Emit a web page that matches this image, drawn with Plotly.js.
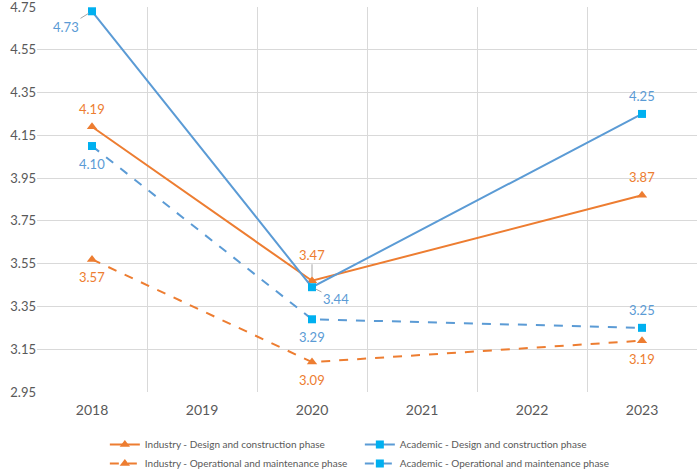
<!DOCTYPE html>
<html>
<head>
<meta charset="utf-8">
<script src="https://cdn.plot.ly/plotly-3.0.1.min.js"></script>
<style>
    html, body { margin: 0; padding: 0; background: #ffffff; }
    #chart { width: 699px; height: 470px; }
</style>
</head>
<body>
<div id="chart"></div>
<script>
// years shown on the category axis
const years = [2018, 2019, 2020, 2021, 2022, 2023];
const surveyYears = [2018, 2020, 2023];

const industryDesign = [4.19, 3.47, 3.87];
const academicDesign = [4.73, 3.44, 4.25];
const industryOperation = [3.57, 3.09, 3.19];
const academicOperation = [4.10, 3.29, 3.25];

const seriesNames = [
    "Industry - Design and construction phase",
    "Academic - Design and construction phase",
    "Industry - Operational and maintenance phase",
    "Academic - Operational and maintenance phase",
];

const yTicks = [2.95, 3.15, 3.35, 3.55, 3.75, 3.95, 4.15, 4.35, 4.55, 4.75];

const ORANGE = "#ED7D31";
const BLUE_LINE = "#5B9BD5";
const BLUE_MARK = "#00B0F0";
const FONT = "Lato, \"Open Sans\", sans-serif";

const series = [
    { name: seriesNames[0], values: industryDesign, color: ORANGE, markColor: ORANGE, symbol: "triangle-up", dash: "solid",
      labelPos: ["above", "leaderUp", "above"] },
    { name: seriesNames[1], values: academicDesign, color: BLUE_LINE, markColor: BLUE_MARK, symbol: "square", dash: "solid",
      labelPos: ["leaderLeft", "leaderRight", "above"] },
    { name: seriesNames[2], values: industryOperation, color: ORANGE, markColor: ORANGE, symbol: "triangle-up", dash: "dash",
      labelPos: ["below", "below", "below"] },
    { name: seriesNames[3], values: academicOperation, color: BLUE_LINE, markColor: BLUE_MARK, symbol: "square", dash: "dash",
      labelPos: ["below", "below", "above"] },
];

const traces = series.map((s) => ({
    type: "scatter",
    mode: "lines+markers",
    name: s.name,
    x: surveyYears,
    y: s.values,
    cliponaxis: false,
    line: { color: s.color, width: 2, dash: s.dash },
    marker: { color: s.markColor, symbol: s.symbol, size: s.symbol === "square" ? 8 : 9 },
}));

const annotations = [];
series.forEach((s) => {
    s.values.forEach((v, i) => {
        const pos = s.labelPos[i];
        const base = {
            x: surveyYears[i],
            y: v,
            xref: "x",
            yref: "y",
            text: v.toFixed(2),
            font: { family: FONT, size: 13, color: s.color === ORANGE ? ORANGE : BLUE_LINE },
        };
        const leader = { showarrow: true, arrowhead: 0, arrowwidth: 1, arrowcolor: "#A6A6A6", standoff: 4 };
        if (pos === "above") {
            annotations.push({ ...base, showarrow: false, yshift: 18 });
        } else if (pos === "below") {
            annotations.push({ ...base, showarrow: false, yshift: -18 });
        } else if (pos === "leaderLeft") {
            annotations.push({ ...base, ...leader, ax: -26, ay: 16 });
        } else if (pos === "leaderRight") {
            annotations.push({ ...base, ...leader, ax: 24, ay: 12 });
        } else if (pos === "leaderUp") {
            annotations.push({ ...base, ...leader, ax: 0, ay: -26 });
        }
    });
});

// invisible helper trace so the gridline axis exists
const xMin = years[0] - 0.5;
const xMax = years[years.length - 1] + 0.5;
traces.push({
    type: "scatter",
    x: [xMin, xMax],
    y: [yTicks[0], yTicks[0]],
    xaxis: "x2",
    mode: "none",
    showlegend: false,
    hoverinfo: "skip",
});

const layout = {
    width: 699,
    height: 470,
    margin: { t: 7, r: 2, b: 78, l: 37, autoexpand: false },
    paper_bgcolor: "#ffffff",
    plot_bgcolor: "#ffffff",
    font: { family: FONT, color: "#595959", size: 13 },
    showlegend: true,
    xaxis: {
        range: [xMin, xMax],
        tickvals: years,
        ticktext: years.map(String),
        showgrid: false,
        zeroline: false,
        showline: false,
        ticks: "",
        ticklabelstandoff: 8,
        tickfont: { size: 14, color: "#595959" },
    },
    xaxis2: {
        overlaying: "x",
        range: [xMin, xMax],
        tickvals: years.map((y) => y - 0.5).concat([xMax]),
        showticklabels: false,
        showgrid: true,
        gridcolor: "#D9D9D9",
        gridwidth: 1,
        zeroline: false,
        ticks: "",
    },
    yaxis: {
        range: [yTicks[0], yTicks[yTicks.length - 1]],
        tickvals: yTicks,
        ticktext: yTicks.map((v) => v.toFixed(2)),
        showgrid: true,
        gridcolor: "#D9D9D9",
        gridwidth: 1,
        zeroline: false,
        showline: false,
        ticks: "",
        automargin: false,
        ticklabeloverflow: "allow",
        tickfont: { size: 13, color: "#595959" },
    },
    legend: {
        orientation: "h",
        x: 0.15,
        xanchor: "left",
        xref: "container",
        y: 0.085,
        yanchor: "top",
        yref: "container",
        entrywidthmode: "pixels",
        entrywidth: 210,
        font: { family: FONT, size: 10, color: "#595959" },
        itemwidth: 30,
        tracegroupgap: 0,
    },
    annotations: annotations,
};

Plotly.newPlot("chart", traces, layout, { displayModeBar: false, staticPlot: true });
</script>
</body>
</html>
